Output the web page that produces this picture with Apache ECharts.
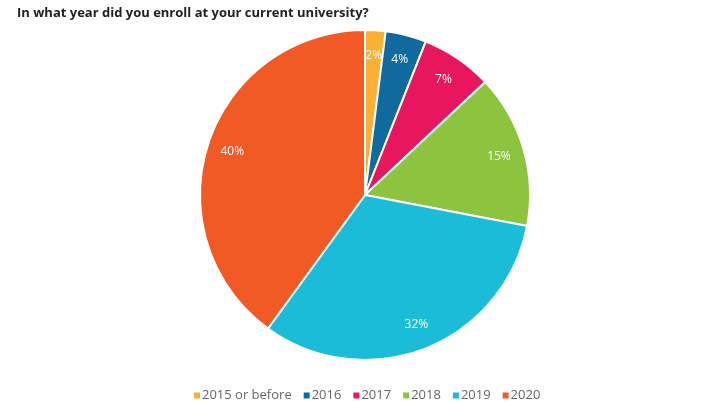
<!DOCTYPE html>
<html>
<head>
<meta charset="utf-8">
<script src="https://cdn.jsdelivr.net/npm/echarts@6/dist/echarts.min.js"></script>
<style>
  html, body { margin: 0; padding: 0; background: #fff; }
  #chart { width: 712px; height: 402px; }
</style>
</head>
<body>
<div id="chart"></div>
<script>
const categories = ['2015 or before', '2016', '2017', '2018', '2019', '2020'];
const shares = [2, 4, 7, 15, 32, 40];
const colors = ['#FBB034', '#106A9D', '#E8175D', '#8CC43F', '#1BBCD7', '#F15A24'];

const chart = echarts.init(document.getElementById('chart'));

const pieData = categories.map((name, i) => ({
  name: name,
  value: shares[i],
  itemStyle: { color: colors[i] }
}));

const option = {
  animation: false,
  title: {
    text: 'In what year did you enroll at your current university?',
    left: 12,
    top: 2,
    textStyle: { fontFamily: 'Open Sans', fontSize: 13, fontWeight: 'bold', color: '#222' }
  },
  legend: {
    data: categories,
    top: 384,
    left: 187,
    icon: 'rect',
    itemWidth: 8,
    itemHeight: 8,
    itemGap: 10,
    textStyle: { fontFamily: 'Open Sans', fontSize: 13, color: '#666', padding: [0, 0, 0, -4] }
  },
  series: [
    {
      type: 'pie',
      center: [365, 195],
      radius: [0, 165],
      startAngle: 90,
      clockwise: true,
      data: pieData,
      itemStyle: { borderColor: '#fff', borderWidth: 2 },
      label: { show: false },
      labelLine: { show: false },
      emphasis: { disabled: true }
    },
    {
      type: 'pie',
      center: [365, 195],
      radius: [108, 165],
      startAngle: 90,
      clockwise: true,
      silent: true,
      data: pieData.map(d => ({ name: d.name, value: d.value, itemStyle: { color: 'rgba(0,0,0,0)' } })),
      itemStyle: { borderWidth: 0 },
      label: {
        show: true,
        position: 'inside',
        formatter: '{c}%',
        fontFamily: 'Open Sans',
        fontSize: 12,
        color: '#fff'
      },
      labelLine: { show: false },
      emphasis: { disabled: true }
    }
  ]
};

chart.setOption(option);
</script>
</body>
</html>
